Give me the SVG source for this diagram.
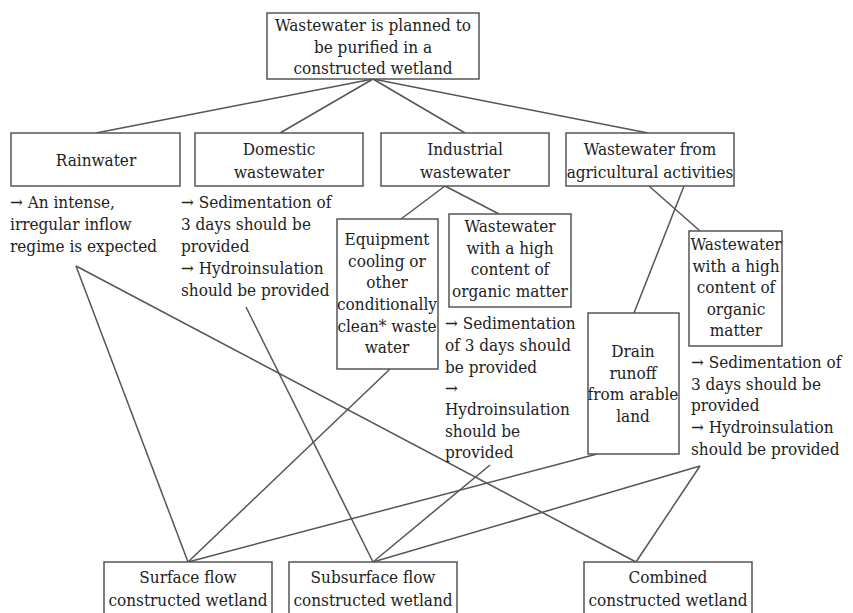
<svg xmlns="http://www.w3.org/2000/svg" width="853" height="613" viewBox="0 0 853 613">
<style>
rect{fill:#fff;stroke:#555;stroke-width:1.5}
text{font-size:17px;fill:#222;font-family:'DejaVu Serif Condensed','DejaVu Serif',serif;font-stretch:condensed}
.c{text-anchor:middle}
#connectors line{stroke:#555;stroke-width:1.5}
</style>
<rect x="0" y="0" width="853" height="613" style="stroke:none"/>
<g id="connectors">
<line x1="373" y1="79" x2="96" y2="133"/>
<line x1="373" y1="79" x2="280" y2="133"/>
<line x1="373" y1="79" x2="465" y2="133"/>
<line x1="373" y1="79" x2="648" y2="133"/>
<line x1="445" y1="186" x2="401" y2="219"/>
<line x1="445" y1="186" x2="499" y2="214"/>
<line x1="649" y1="186" x2="700" y2="231"/>
<line x1="684" y1="186" x2="634" y2="313"/>
<line x1="76" y1="266" x2="188" y2="562"/>
<line x1="76" y1="266" x2="636" y2="562"/>
<line x1="246" y1="307" x2="373" y2="562"/>
<line x1="390" y1="369" x2="188" y2="562"/>
<line x1="490" y1="465" x2="373" y2="562"/>
<line x1="597" y1="454" x2="188" y2="562"/>
<line x1="700" y1="466" x2="373" y2="562"/>
<line x1="700" y1="466" x2="636" y2="562"/>
</g>
<g id="root">
<rect x="267" y="13" width="212" height="66"/>
<text class="c" x="373" y="31">Wastewater is planned to</text>
<text class="c" x="373" y="53">be purified in a</text>
<text class="c" x="373" y="74">constructed wetland</text>
</g>
<g id="rainwater">
<rect x="11" y="133" width="169" height="53"/>
<text class="c" x="96" y="166">Rainwater</text>
</g>
<g id="rainwater-note">
<text x="10" y="208">→ An intense,</text>
<text x="10" y="230">irregular inflow</text>
<text x="10" y="252">regime is expected</text>
</g>
<g id="domestic">
<rect x="195" y="133" width="168" height="53"/>
<text class="c" x="279" y="155">Domestic</text>
<text class="c" x="279" y="178">wastewater</text>
</g>
<g id="domestic-note">
<text x="181" y="208">→ Sedimentation of</text>
<text x="181" y="230">3 days should be</text>
<text x="181" y="252">provided</text>
<text x="181" y="274">→ Hydroinsulation</text>
<text x="181" y="296">should be provided</text>
</g>
<g id="industrial">
<rect x="381" y="133" width="168" height="53"/>
<text class="c" x="465" y="155">Industrial</text>
<text class="c" x="465" y="178">wastewater</text>
</g>
<g id="agricultural">
<rect x="566" y="133" width="168" height="53"/>
<text class="c" x="650" y="155">Wastewater from</text>
<text class="c" x="650" y="178">agricultural activities</text>
</g>
<g id="equipment">
<rect x="337" y="219" width="101" height="150"/>
<text class="c" x="387" y="245">Equipment</text>
<text class="c" x="387" y="267">cooling or</text>
<text class="c" x="387" y="288">other</text>
<text class="c" x="387" y="310">conditionally</text>
<text class="c" x="387" y="332">clean* waste</text>
<text class="c" x="387" y="353">water</text>
</g>
<g id="industrial-organic">
<rect x="449" y="214" width="122" height="93"/>
<text class="c" x="510" y="232">Wastewater</text>
<text class="c" x="510" y="254">with a high</text>
<text class="c" x="510" y="275">content of</text>
<text class="c" x="510" y="297">organic matter</text>
</g>
<g id="industrial-note">
<text x="445" y="329">→ Sedimentation</text>
<text x="445" y="351">of 3 days should</text>
<text x="445" y="373">be provided</text>
<text x="445" y="394">→</text>
<text x="445" y="415">Hydroinsulation</text>
<text x="445" y="437">should be</text>
<text x="445" y="458">provided</text>
</g>
<g id="drain">
<rect x="588" y="313" width="91" height="141"/>
<text class="c" x="633" y="357">Drain</text>
<text class="c" x="633" y="379">runoff</text>
<text class="c" x="633" y="400">from arable</text>
<text class="c" x="633" y="422">land</text>
</g>
<g id="agricultural-organic">
<rect x="689" y="231" width="93" height="115"/>
<text class="c" x="736" y="250">Wastewater</text>
<text class="c" x="736" y="272">with a high</text>
<text class="c" x="736" y="293">content of</text>
<text class="c" x="736" y="315">organic</text>
<text class="c" x="736" y="336">matter</text>
</g>
<g id="agricultural-note">
<text x="691" y="368">→ Sedimentation of</text>
<text x="691" y="390">3 days should be</text>
<text x="691" y="411">provided</text>
<text x="691" y="433">→ Hydroinsulation</text>
<text x="691" y="455">should be provided</text>
</g>
<g id="surface">
<rect x="104" y="562" width="168" height="54"/>
<text class="c" x="188" y="583">Surface flow</text>
<text class="c" x="188" y="606">constructed wetland</text>
</g>
<g id="subsurface">
<rect x="289" y="562" width="168" height="54"/>
<text class="c" x="373" y="583">Subsurface flow</text>
<text class="c" x="373" y="606">constructed wetland</text>
</g>
<g id="combined">
<rect x="584" y="562" width="168" height="54"/>
<text class="c" x="668" y="583">Combined</text>
<text class="c" x="668" y="606">constructed wetland</text>
</g>
</svg>
